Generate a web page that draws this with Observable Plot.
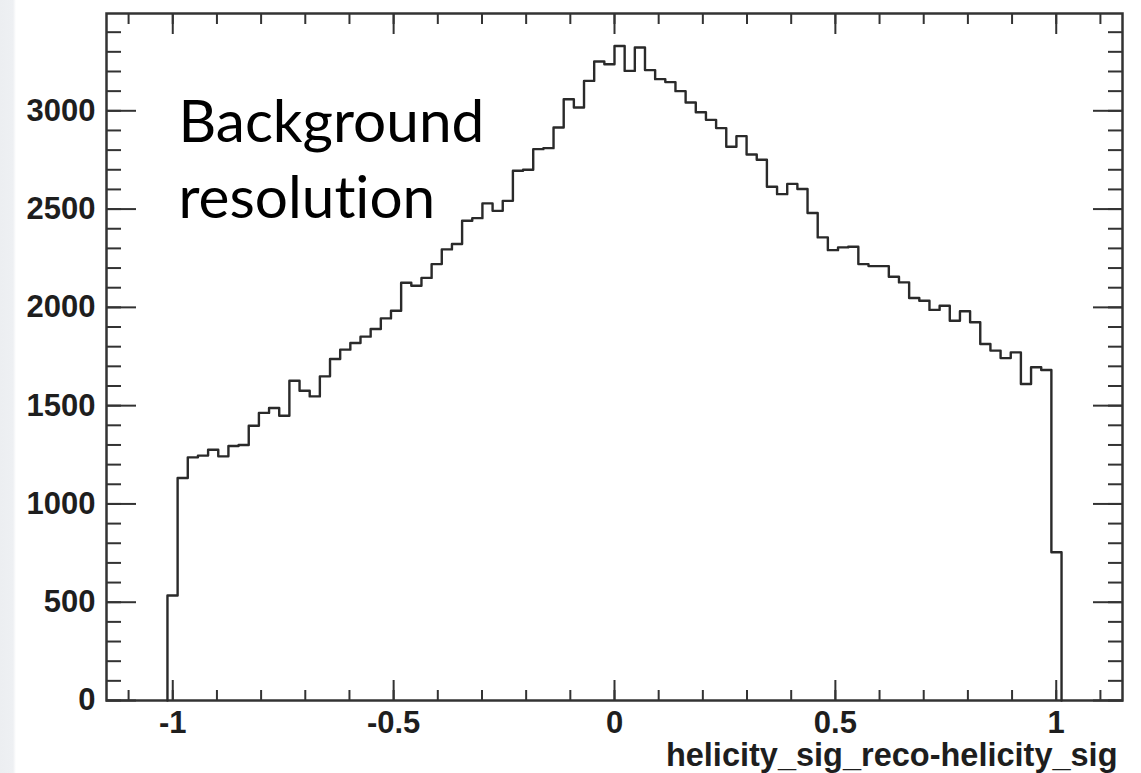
<!DOCTYPE html>
<html><head><meta charset="utf-8">
<script src="https://cdn.jsdelivr.net/npm/d3@7"></script>
<script src="https://cdn.jsdelivr.net/npm/@observablehq/plot@0.6"></script>
<style>
html,body{margin:0;padding:0;background:#fff;}
#chart{position:relative;width:1141px;height:773px;background:linear-gradient(to right,#eceef1 0,#eef0f3 13px,#fff 16px);}
svg text{font-variant-ligatures:none;font-feature-settings:"liga" 0;}
</style></head><body><div id="chart"></div>
<script>
// Histogram definition (ROOT-style): 100 bins on [-1.15, 1.15]; filled bins start at bin index 6
const binLow = -1.15;
const binHigh = 1.15;
const binCount = 100;
const firstFilledBin = 6;
const counts = [
  534, 1132, 1237, 1246, 1276, 1242, 1295, 1300, 1398, 1463,
  1488, 1449, 1627, 1576, 1547, 1649, 1737, 1785, 1819, 1851,
  1890, 1944, 1983, 2125, 2110, 2150, 2220, 2295, 2322, 2441,
  2454, 2529, 2491, 2542, 2695, 2700, 2805, 2810, 2915, 3059,
  3017, 3152, 3251, 3237, 3330, 3203, 3322, 3207, 3161, 3146,
  3100, 3042, 2993, 2954, 2912, 2817, 2871, 2778, 2751, 2614,
  2576, 2628, 2602, 2480, 2356, 2291, 2305, 2308, 2220, 2210,
  2210, 2156, 2127, 2048, 2034, 1987, 2008, 1932, 1980, 1924,
  1814, 1780, 1742, 1771, 1610, 1695, 1681, 754
];
const yMax = 3495;
const xMajorTicks = [-1, -0.5, 0, 0.5, 1];
const xTickLabels = ["-1", "-0.5", "0", "0.5", "1"];
const xMinorTicks = [-1.1, -1, -0.9, -0.8, -0.7, -0.6, -0.5, -0.4, -0.3, -0.2, -0.1, 0, 0.1, 0.2, 0.3, 0.4, 0.5, 0.6, 0.7, 0.8, 0.9, 1, 1.1];
const yMajorTicks = [0, 500, 1000, 1500, 2000, 2500, 3000];
const yTickLabels = ["0", "500", "1000", "1500", "2000", "2500", "3000"];
const yMinorTicks = d3.range(0, 3500, 100);
const annotation = "Background\nresolution";
const xTitle = "helicity_sig_reco-helicity_sig";

const binW = (binHigh - binLow) / binCount;
const pts = [];
counts.forEach((c, i) => {
  const x0 = binLow + (firstFilledBin + i) * binW;
  pts.push({x: x0, y: c}, {x: x0 + binW, y: c});
});
pts.unshift({x: pts[0].x, y: 0});
pts.push({x: pts[pts.length - 1].x, y: 0});

const ink = "#333";
const labelFont = "'Liberation Sans', Arial, Helvetica, sans-serif";
const noText = () => "";

const chart = Plot.plot({
  width: 1141,
  height: 773,
  marginLeft: 106,
  marginRight: 19,
  marginTop: 13,
  marginBottom: 73,
  x: {domain: [binLow, binHigh]},
  y: {domain: [0, yMax]},
  style: {background: "transparent", fontFamily: labelFont, overflow: "visible"},
  marks: [
    // minor & major ticks, inward, all four sides
    Plot.axisX({anchor: "bottom", ticks: xMinorTicks, tickSize: -10, tickFormat: noText, stroke: ink, strokeWidth: 2, label: null}),
    Plot.axisX({anchor: "bottom", ticks: xMajorTicks, tickSize: -20, tickFormat: noText, stroke: ink, strokeWidth: 2, label: null}),
    Plot.axisX({anchor: "top", ticks: xMinorTicks, tickSize: -10, tickFormat: noText, stroke: ink, strokeWidth: 2, label: null}),
    Plot.axisX({anchor: "top", ticks: xMajorTicks, tickSize: -20, tickFormat: noText, stroke: ink, strokeWidth: 2, label: null}),
    Plot.axisY({anchor: "left", ticks: yMinorTicks, tickSize: -15, tickFormat: noText, stroke: ink, strokeWidth: 2, label: null}),
    Plot.axisY({anchor: "left", ticks: yMajorTicks, tickSize: -30, tickFormat: noText, stroke: ink, strokeWidth: 2, label: null}),
    Plot.axisY({anchor: "right", ticks: yMinorTicks, tickSize: -15, tickFormat: noText, stroke: ink, strokeWidth: 2, label: null}),
    Plot.axisY({anchor: "right", ticks: yMajorTicks, tickSize: -30, tickFormat: noText, stroke: ink, strokeWidth: 2, label: null}),
    // tick labels
    Plot.axisX({anchor: "bottom", ticks: xMajorTicks, tickSize: 0, tickPadding: 10, fontSize: 31, fontWeight: "bold", fill: "#1e1e1e",
      tickFormat: d => xTickLabels[xMajorTicks.indexOf(d)], label: null}),
    Plot.axisY({anchor: "left", ticks: yMajorTicks, tickSize: 0, tickPadding: 11, fontSize: 31, fontWeight: "bold", fill: "#1e1e1e",
      tickFormat: d => yTickLabels[yMajorTicks.indexOf(d)], label: null}),
    Plot.frame({stroke: ink, strokeWidth: 2.5}),
    Plot.line(pts, {x: "x", y: "y", stroke: "#2a2a2a", strokeWidth: 2.4}),
    Plot.text([annotation], {frameAnchor: "top-left", dx: 72, dy: 74, text: d => d, fontSize: 58.5, lineHeight: 1.3,
      lineAnchor: "top", textAnchor: "start", fontFamily: "Lato, 'Open Sans', sans-serif", fill: "#000"}),
    Plot.text([xTitle], {frameAnchor: "bottom-right", dx: -5, dy: 55, text: d => d, fontSize: 32.5, fontWeight: "bold",
      lineAnchor: "middle", textAnchor: "end", fill: "#1e1e1e", fontFamily: labelFont})
  ]
});
document.getElementById("chart").appendChild(chart);
</script>
</body></html>
